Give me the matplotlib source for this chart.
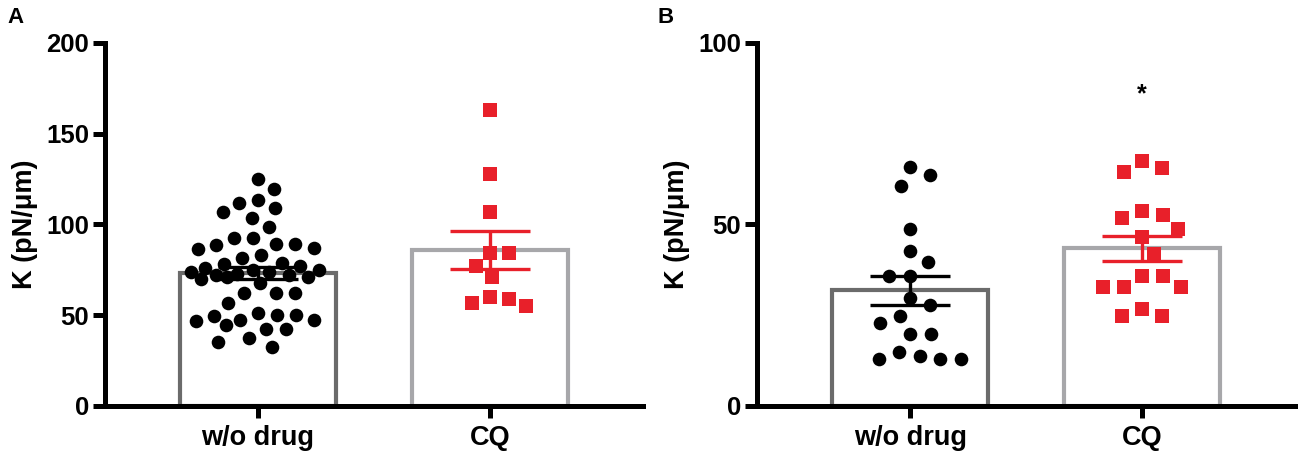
import numpy as np
import matplotlib
matplotlib.use("Agg")
import matplotlib.pyplot as plt

plt.rcParams['font.family'] = ['Liberation Sans', 'DejaVu Sans']
plt.rcParams['font.weight'] = 'bold'

groups = ['w/o drug', 'CQ']

# panel A values (pN/um)
a_ctrl = [125, 119.6, 113.5, 112, 109, 107, 103.6, 98.6,
          92.6, 89, 87, 83, 86.5, 88.7, 89, 92.6,
          79, 78, 81.5,
          70, 71, 71, 72, 72, 73, 74, 74, 75, 75, 76, 77,
          68, 62, 57, 62, 62, 51, 50, 47.4, 47, 44.6, 47.4, 49.6, 50,
          42.4, 42.4, 37.5, 32.5, 35]
a_cq = [163, 128, 107, 84.3, 84.3, 77, 71, 59, 55, 56.7, 60]

# panel B values
b_ctrl = [63.6, 65.8, 60.6, 48.8, 42.7, 39.7, 35.8, 35.8, 29.8, 27.8,
          24.8, 22.9, 19.8, 19.8, 14.9, 12.9, 12.9, 12.9, 13.8]
b_cq = [67.5, 64.5, 65.6, 53.7, 51.8, 52.6, 48.8, 46.6, 41.9, 35.8,
        35.8, 32.8, 32.8, 32.8, 26.7, 24.8, 24.8]

bar_cols = ['#6b6b6b', '#a7a7aa']
pt_cols = ['black', '#e8202a']
markers = ['o', 's']


def swarm(vals, xscale, yscale, d=19, half_w=67):
    # beeswarm in pixel space, kept inside +-half_w; overlaps allowed when crowded
    vals = np.asarray(vals, dtype=float)
    placed = []
    offs = np.zeros(len(vals))
    for i in np.argsort(vals)[::-1]:
        y = vals[i] * yscale
        cands = [0.0]
        for px, py in placed:
            dy = y - py
            if abs(dy) < d:
                dx = np.sqrt(d * d - dy * dy)
                cands += [px + dx, px - dx]
        cands = sorted([c for c in cands if abs(c) <= half_w], key=abs)
        best = None
        for c in cands:
            if all((c - px) ** 2 + (y - py) ** 2 >= d * d - 1e-6 for px, py in placed):
                best = c
                break
        if best is None:
            grid = np.linspace(-half_w, half_w, 135)
            score = [min(((g - px) ** 2 + (y - py) ** 2 for px, py in placed), default=1e9)
                     for g in grid]
            best = grid[int(np.argmax(score))]
        placed.append((best, y))
        offs[i] = best / xscale
    return offs


fig = plt.figure(figsize=(12.99, 4.55), dpi=100)
axA = fig.add_axes([0.0808, 0.1077, 0.4142, 0.7978])
axB = fig.add_axes([0.5828, 0.1077, 0.4142, 0.7978])


def panel(ax, data, ymax, yticks, letter, lx, d):
    ax.set_xlim(-0.66, 1.66)
    ax.set_ylim(0, ymax)
    bb = ax.get_position()
    xscale = bb.width * fig.get_figwidth() * fig.dpi / 2.32
    yscale = bb.height * fig.get_figheight() * fig.dpi / ymax
    for i, vals in enumerate(data):
        vals = np.array(vals, dtype=float)
        m = vals.mean()
        sem = vals.std(ddof=1) / np.sqrt(len(vals))
        ax.bar(i, m, width=0.67, facecolor='white', edgecolor=bar_cols[i],
               linewidth=3.0, zorder=1)
        offs = swarm(vals, xscale, yscale, d=d)
        ax.scatter(i + offs, vals, s=96, marker=markers[i], color=pt_cols[i],
                   linewidths=0, zorder=3)
        ax.errorbar(i, m, yerr=sem, color=pt_cols[i], capsize=29,
                    elinewidth=2.4, capthick=2.4, zorder=4)
    for s in ['top', 'right']:
        ax.spines[s].set_visible(False)
    for s in ['left', 'bottom']:
        ax.spines[s].set_linewidth(3.6)
        ax.spines[s].set_zorder(5)
    ax.set_yticks(yticks)
    ax.set_xticks([0, 1])
    ax.set_xticklabels(groups)
    ax.tick_params(width=3.6, length=8.5, labelsize=18.5, pad=3)
    ax.tick_params(axis='x', labelsize=19.5, pad=5)
    for lab in ax.get_xticklabels() + ax.get_yticklabels():
        lab.set_fontweight('bold')
    ax.set_ylabel('K (pN/\u03bcm)', fontsize=19.5, fontweight='bold', labelpad=6)
    fig.text(lx, 0.985, letter, fontsize=16, fontweight='bold', va='top', ha='left')


panel(axA, [a_ctrl, a_cq], 200, [0, 50, 100, 150, 200], 'A', 0.006, 19)
panel(axB, [b_ctrl, b_cq], 100, [0, 50, 100], 'B', 0.506, 21)
axB.text(1, 86, '*', ha='center', va='center', fontsize=18, fontweight='bold')

fig.savefig('out.png', dpi=100)
